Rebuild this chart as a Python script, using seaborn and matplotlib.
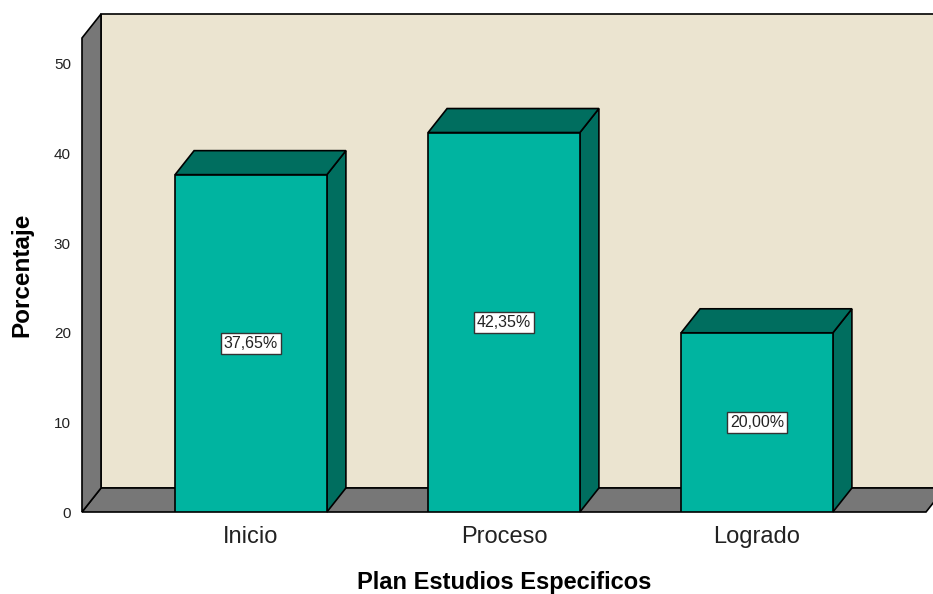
import matplotlib
matplotlib.use("Agg")
import matplotlib.pyplot as plt
from matplotlib.patches import Polygon
import seaborn as sns
import pandas as pd

categories = ["Inicio", "Proceso", "Logrado"]
percentages = [37.65, 42.35, 20.00]
value_labels = ["37,65%", "42,35%", "20,00%"]
y_ticks = [0, 10, 20, 30, 40, 50]
x_title = "Plan Estudios Especificos"
y_title = "Porcentaje"

sns.set_theme(style="white")
plt.rcParams["font.family"] = ["Liberation Sans", "DejaVu Sans"]

FRONT = "#00B4A0"
DARK = "#006E5F"
WALL = "#EBE4D0"
GRAY = "#777777"

W, H = 933, 594
fig = plt.figure(figsize=(W / 100, H / 100), dpi=100)
left_px, right_px, bottom_px, top_px = 82, 926, 512, 38
ax = fig.add_axes([left_px / W, (H - bottom_px) / H,
                   (right_px - left_px) / W, (bottom_px - top_px) / H])

df = pd.DataFrame({"cat": categories, "pct": percentages})
sns.barplot(data=df, x="cat", y="pct", order=categories, color=FRONT,
            saturation=1, width=0.6, edgecolor="black", linewidth=1.2,
            ax=ax, zorder=5)

xmin, xmax = -0.668, 2.668
ymax = 52.9
ax.set_xlim(xmin, xmax)
ax.set_ylim(0, ymax)

# depth offsets (data units), derived from pixel depth of 19 x 24 px
px_per_x = (right_px - left_px) / (xmax - xmin)
px_per_y = (bottom_px - top_px) / ymax
ddx = 19 / px_per_x
ddy = 24 / px_per_y

ekw = dict(edgecolor="black", linewidth=1.2, clip_on=False)
# back wall
ax.add_patch(Polygon([(xmin + ddx, ddy), (xmax + ddx + 1, ddy),
                      (xmax + ddx + 1, ymax + ddy), (xmin + ddx, ymax + ddy)],
                     closed=True, facecolor=WALL, zorder=1, **ekw))
# floor
ax.add_patch(Polygon([(xmin, 0), (xmax, 0), (xmax + ddx, ddy), (xmin + ddx, ddy)],
                     closed=True, facecolor=GRAY, zorder=2, **ekw))
# left wall
ax.add_patch(Polygon([(xmin, 0), (xmin + ddx, ddy), (xmin + ddx, ymax + ddy), (xmin, ymax)],
                     closed=True, facecolor=GRAY, zorder=2, **ekw))

# 3D top and side of each bar
for bar, lab in zip(ax.patches[:len(categories)], value_labels):
    x0 = bar.get_x()
    x1 = x0 + bar.get_width()
    h = bar.get_height()
    ax.add_patch(Polygon([(x1, 0), (x1 + ddx, ddy), (x1 + ddx, h + ddy), (x1, h)],
                         closed=True, facecolor=DARK, zorder=4, **ekw))
    ax.add_patch(Polygon([(x0, h), (x1, h), (x1 + ddx, h + ddy), (x0 + ddx, h + ddy)],
                         closed=True, facecolor=DARK, zorder=4, **ekw))
    ax.text((x0 + x1) / 2, h / 2, lab, ha="center", va="center", fontsize=11.5,
            color="#222222", zorder=10,
            bbox=dict(boxstyle="square,pad=0.2", facecolor="white",
                      edgecolor="#333333", linewidth=1))

for s in ax.spines.values():
    s.set_visible(False)
ax.set_yticks(y_ticks)
ax.set_yticklabels([str(t) for t in y_ticks])
ax.tick_params(axis="y", length=0, pad=8, labelsize=11, labelcolor="#222222")
ax.tick_params(axis="x", length=0, pad=10, labelsize=17, labelcolor="#222222")
ax.set_xlabel(x_title, fontsize=17, fontweight="bold", color="black")
ax.set_ylabel(y_title, fontsize=17.5, fontweight="bold", color="black")
ax.xaxis.set_label_coords(0.5, (bottom_px - 582) / (bottom_px - top_px))
ax.xaxis.label.set_va("center")
ax.yaxis.set_label_coords((22 - left_px) / (right_px - left_px), (bottom_px - 275) / (bottom_px - top_px))
ax.yaxis.label.set_va("center")
ax.patch.set_visible(False)
ax.grid(False)

fig.savefig("out.png", dpi=100, facecolor="white")
